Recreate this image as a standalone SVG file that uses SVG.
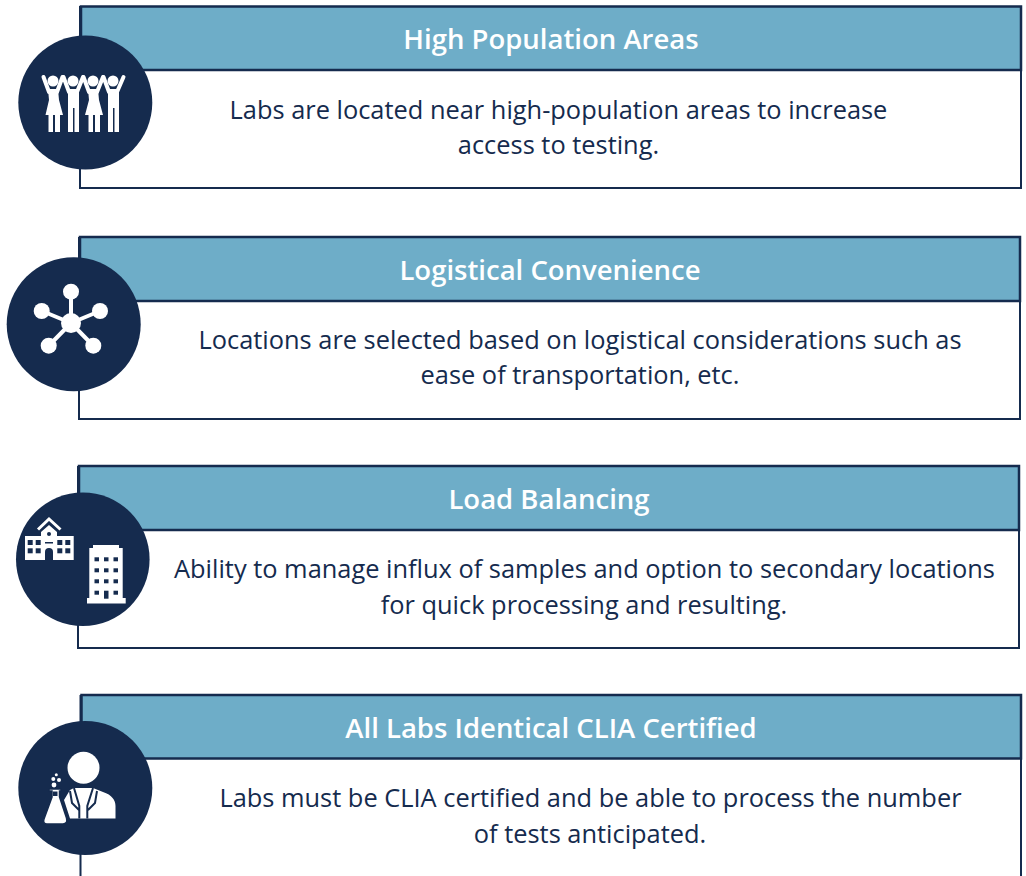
<svg xmlns="http://www.w3.org/2000/svg" width="1026" height="876" viewBox="0 0 1026 876">
<style>
.box{fill:#fff;stroke:#152B4E;stroke-width:2}
.band{fill:#6EADC8;stroke:#152B4E;stroke-width:2.500}
.disc{fill:#152B4E}
.t{font-family:"Open Sans","Liberation Sans",sans-serif;font-size:27.5px;font-weight:600;fill:#fff;text-anchor:middle}
.b{font-family:"Open Sans","Liberation Sans",sans-serif;font-size:25.4px;fill:#152B4E;text-anchor:middle}
.w{fill:#fff}
.arm{stroke:#fff;stroke-width:4;stroke-linecap:round;fill:none}
.spoke{stroke:#fff;stroke-width:4;fill:none}
.roof{stroke:#fff;stroke-width:3;fill:none}
.n{fill:#152B4E}
.gap{stroke:#152B4E;stroke-width:2;fill:none}
</style>
<rect width="1026" height="876" fill="#fff"/>
<g id="card-1">
<rect class="box" x="80" y="7" width="941" height="181"/>
<rect class="band" x="81" y="6.500" width="940" height="63.500"/>
<circle class="disc" cx="85.300" cy="102.500" r="67"/>
<path class="arm" d="M43.500 77L49 92M62.500 77L57 92M63.500 77L69 92M83 77L77 92M83.500 77L89 92M103 77L97 92M103.500 77L109 92M123.500 77L117 92"/>
<g class="w">
<circle cx="53" cy="81" r="5.500"/><circle cx="73" cy="81" r="5.500"/><circle cx="93" cy="81" r="5.500"/><circle cx="113" cy="81" r="5.500"/>
<path d="M48 89H58L59 100L63 115H45.500L49 100Z"/>
<path d="M88 89H98L99 100L103 115H85L89 100Z"/>
<path d="M48.500 115H53V132H48.500ZM55 115H60V132H55Z"/>
<path d="M88.500 115H93V132H88.500ZM95 115H100V132H95Z"/>
<path d="M68 89H79V132H74.500V108H73V132H68Z"/>
<path d="M108 89H119V132H114.500V108H113V132H108Z"/>
</g>
<text class="t" x="551" y="48.800">High Population Areas</text>
<text class="b" x="558.500" y="119">Labs are located near high-population areas to increase</text>
<text class="b" x="558.500" y="154">access to testing.</text>
</g>
<g id="card-2">
<rect class="box" x="79" y="238" width="941" height="181"/>
<rect class="band" x="80" y="237" width="940" height="64"/>
<circle class="disc" cx="73.700" cy="324.200" r="67"/>
<path class="spoke" d="M71 323V292M71 323L42 311M71 323L100 311M71 323L49 345.500M71 323L93 345.500"/>
<g class="w">
<circle cx="71" cy="323" r="10"/><circle cx="71" cy="291.700" r="8"/><circle cx="41.700" cy="311" r="8"/><circle cx="100" cy="311" r="8"/><circle cx="48.700" cy="345.700" r="8"/><circle cx="93.300" cy="345.700" r="8"/>
</g>
<text class="t" x="550" y="279.800">Logistical Convenience</text>
<text class="b" x="580" y="349">Locations are selected based on logistical considerations such as</text>
<text class="b" x="580" y="384">ease of transportation, etc.</text>
</g>
<g id="card-3">
<rect class="box" x="78" y="467" width="941" height="181"/>
<rect class="band" x="79" y="466" width="940" height="64"/>
<circle class="disc" cx="82.800" cy="559.200" r="66.800"/>
<g class="w">
<path d="M25 536H41V532L49 525L57 532V536H73.700V560H25Z"/>
<path d="M93 545H119V548H122.700V598H125.700V603.500H87V598H89.300V548H93Z"/>
</g>
<path class="roof" d="M38 529.500L49 519L60.500 529.500"/>
<g class="n">
<circle cx="49" cy="534" r="2"/>
<rect x="27.700" y="540" width="5" height="5"/><rect x="35.700" y="540" width="5" height="5"/><rect x="57.300" y="540" width="5" height="5"/><rect x="65.300" y="540" width="5" height="5"/>
<rect x="27.700" y="548.300" width="5" height="5"/><rect x="35.700" y="548.300" width="5" height="5"/><rect x="57.300" y="548.300" width="5" height="5"/><rect x="65.300" y="548.300" width="5" height="5"/>
<rect x="45" y="542" width="8" height="1.500"/>
<path d="M45 560V552a4 4 0 0 1 8 0V560Z"/>
<rect x="94.500" y="557.300" width="4.500" height="4"/><rect x="104" y="557.300" width="4.500" height="4"/><rect x="113.500" y="557.300" width="4.500" height="4"/>
<rect x="94.500" y="568.300" width="4.500" height="4"/><rect x="104" y="568.300" width="4.500" height="4"/><rect x="113.500" y="568.300" width="4.500" height="4"/>
<rect x="94.500" y="579.300" width="4.500" height="4"/><rect x="104" y="579.300" width="4.500" height="4"/><rect x="113.500" y="579.300" width="4.500" height="4"/>
<rect x="94.500" y="590.700" width="4.500" height="4"/><rect x="104" y="590.700" width="4.500" height="8"/><rect x="113.500" y="590.700" width="4.500" height="4"/>
</g>
<text class="t" x="549" y="508.800">Load Balancing</text>
<text class="b" x="584.500" y="578">Ability to manage influx of samples and option to secondary locations</text>
<text class="b" x="584" y="614">for quick processing and resulting.</text>
</g>
<g id="card-4">
<rect class="box" x="80.500" y="696" width="940.500" height="190"/>
<rect class="band" x="81.500" y="695" width="939.500" height="63.500"/>
<circle class="disc" cx="85.300" cy="788" r="67"/>
<g class="w">
<circle cx="83.500" cy="767.700" r="16"/>
<path d="M64 800L70 790L74 788H93L103 792C112 795 115.500 800 115.500 806V818.500H70Z"/>
</g>
<path class="gap" d="M74 788L79.300 806V818.500M93 788L87.300 806V818.500M70 791L72 803L79 810M97 791L95 803L88 810"/>
<path class="w" stroke="#152B4E" stroke-width="1.500" d="M49 789H61V791H59.500V797L66.500 818C67.500 822 66 824 63 824H47C44 824 43 822 44 819L52 797V791H49Z"/>
<path class="n" d="M53 791.500H57.500V796H53Z"/>
<g class="w">
<circle cx="54" cy="785" r="2.400"/><circle cx="53.300" cy="779" r="2"/><circle cx="59" cy="780" r="2"/><circle cx="56.300" cy="774.700" r="1.500"/>
</g>
<text class="t" x="551" y="737.800">All Labs Identical CLIA Certified</text>
<text class="b" x="590.500" y="807">Labs must be CLIA certified and be able to process the number</text>
<text class="b" x="590" y="843">of tests anticipated.</text>
</g>
</svg>
